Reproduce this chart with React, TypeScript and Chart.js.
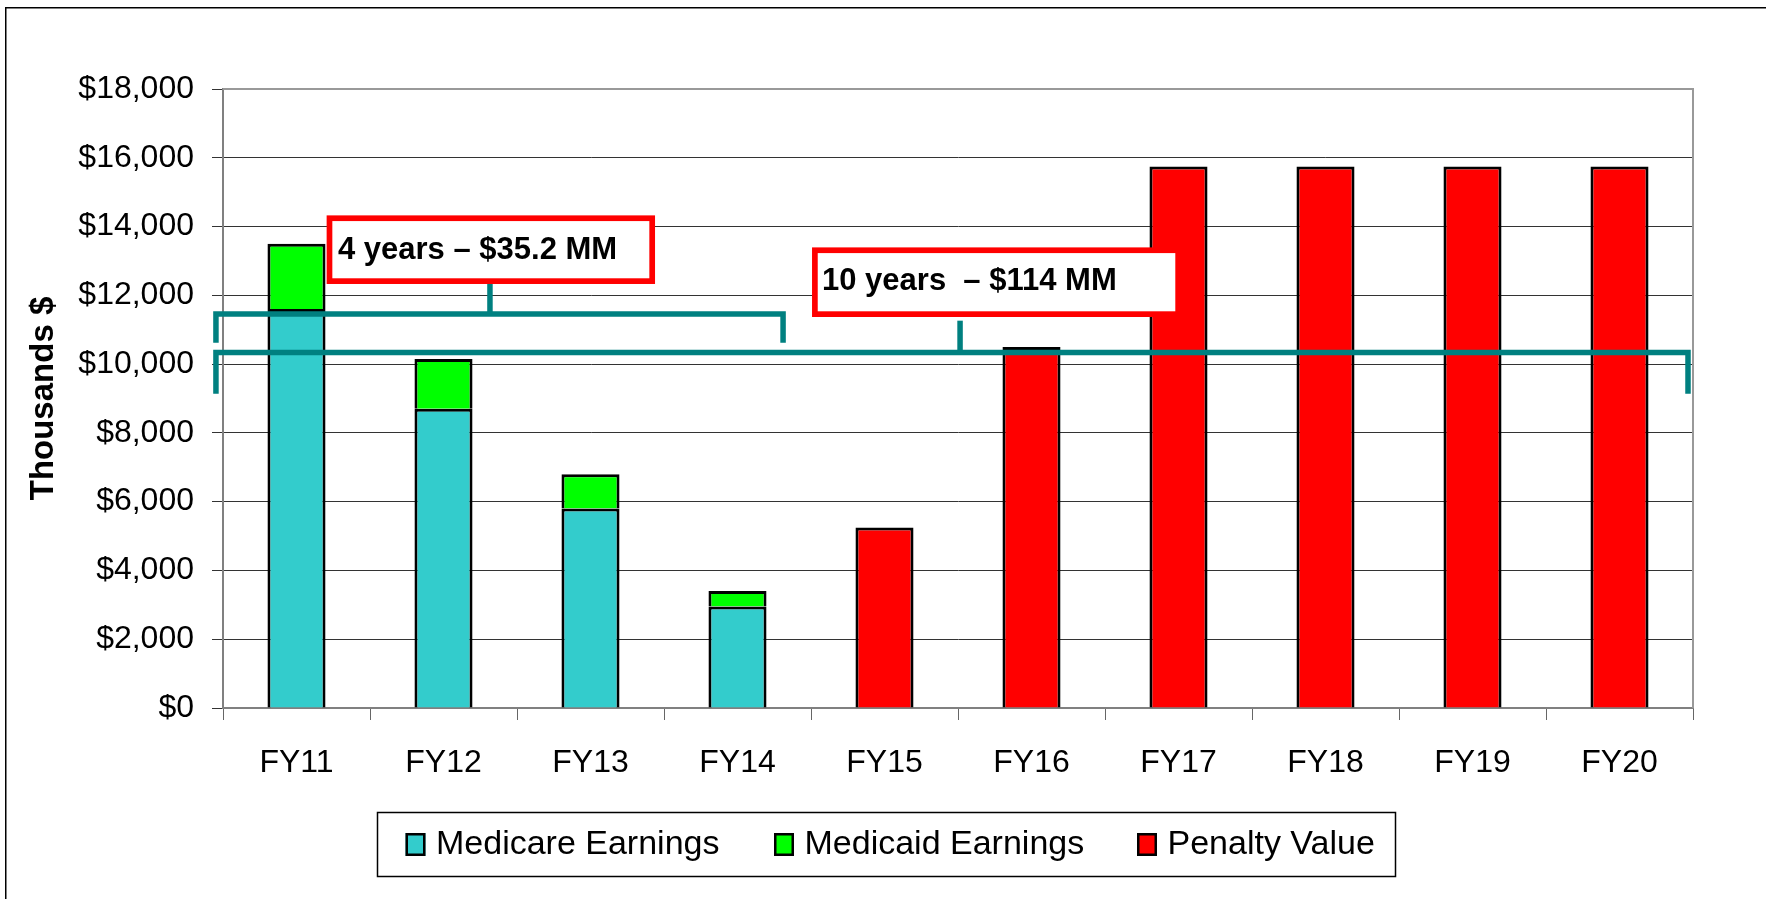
import React, { useEffect, useRef } from "react";
import { Chart, registerables } from "chart.js";

Chart.register(...registerables);

// ---------- data ----------
const categories = ["FY11", "FY12", "FY13", "FY14", "FY15", "FY16", "FY17", "FY18", "FY19", "FY20"];
const medicareEarnings = [11600, 8700, 5800, 2950, null, null, null, null, null, null];
const medicaidEarnings = [1900, 1450, 1000, 450, null, null, null, null, null, null];
const penaltyValue = [null, null, null, null, 5250, 10500, 15750, 15750, 15750, 15750];
const seriesLabels = ["Medicare Earnings", "Medicaid Earnings", "Penalty Value"];
const yTickValues = [0, 2000, 4000, 6000, 8000, 10000, 12000, 14000, 16000, 18000];
const yAxisTitle = "Thousands $";
const annotationTexts = ["4 years \u2013 $35.2 MM", "10 years  \u2013 $114 MM"];

// ---------- annotation geometry (category-index / value units) ----------
const brackets = [
  { from: -0.548, to: 3.31, level: 11457, drop: 10623, mid: 1.316, rise: 12397 },
  { from: -0.548, to: 9.466, level: 10341, drop: 9140, mid: 4.514, rise: 11263 },
];
const labelBoxes = [
  { x0: 0.205, x1: 2.439, top: 14325, bottom: 12330, tx: 0.282, ty: 13057 },
  { x0: 3.507, x1: 6.017, top: 13394, bottom: 11370, tx: 3.575, ty: 12144 },
];

const FONT = '"Liberation Sans", Arial, Helvetica, sans-serif';
const COLORS = ["#33CCCC", "#00FF00", "#FF0000"];
const TEAL = "#008080";

const LEGEND_MARKER_X = [405.5, 774, 1137];

const annotationPlugin = {
  id: "annotationPlugin",
  beforeDraw(chart: any) {
    const { ctx } = chart;
    ctx.save();
    ctx.fillStyle = "#ffffff";
    ctx.fillRect(0, 0, chart.width, chart.height);
    ctx.restore();
  },
  afterDatasetsDraw(chart: any) {
    const { ctx, chartArea } = chart;
    const x = chart.scales.x;
    const y = chart.scales.y;
    ctx.save();
    // top & right plot frame
    ctx.strokeStyle = "#999999";
    ctx.lineWidth = 2;
    ctx.beginPath();
    ctx.moveTo(chartArea.left, chartArea.top);
    ctx.lineTo(chartArea.right, chartArea.top);
    ctx.lineTo(chartArea.right, chartArea.bottom);
    ctx.stroke();

    // brackets
    ctx.strokeStyle = TEAL;
    ctx.lineWidth = 5.5;
    ctx.lineCap = "butt";
    ctx.lineJoin = "miter";
    for (const b of brackets) {
      const xa = x.getPixelForValue(b.from);
      const xb = x.getPixelForValue(b.to);
      const yl = y.getPixelForValue(b.level);
      const yd = y.getPixelForValue(b.drop);
      const xm = x.getPixelForValue(b.mid);
      const yr = y.getPixelForValue(b.rise);
      ctx.beginPath();
      ctx.moveTo(xa, yd);
      ctx.lineTo(xa, yl);
      ctx.lineTo(xb, yl);
      ctx.lineTo(xb, yd);
      ctx.stroke();
      ctx.beginPath();
      ctx.moveTo(xm, yr);
      ctx.lineTo(xm, yl);
      ctx.stroke();
    }

    // label boxes
    const bw = 5.7;
    labelBoxes.forEach((bx, i) => {
      const l = x.getPixelForValue(bx.x0);
      const r = x.getPixelForValue(bx.x1);
      const t = y.getPixelForValue(bx.top);
      const btm = y.getPixelForValue(bx.bottom);
      ctx.fillStyle = "#FF0000";
      ctx.fillRect(l, t, r - l, btm - t);
      ctx.fillStyle = "#FFFFFF";
      ctx.fillRect(l + bw, t + bw, r - l - 2 * bw, btm - t - 2 * bw);
      ctx.fillStyle = "#000000";
      ctx.font = `bold 31px ${FONT}`;
      ctx.textBaseline = "alphabetic";
      ctx.textAlign = "left";
      ctx.fillText(annotationTexts[i], x.getPixelForValue(bx.tx), y.getPixelForValue(bx.ty));
    });
    ctx.restore();
  },
  afterDraw(chart: any) {
    const { ctx } = chart;
    ctx.save();
    // legend frame
    ctx.strokeStyle = "#000000";
    ctx.lineWidth = 1.5;
    ctx.strokeRect(377.5, 812.5, 1018, 64);
    ctx.font = `34px ${FONT}`;
    ctx.textBaseline = "alphabetic";
    ctx.textAlign = "left";
    chart.data.datasets.forEach((ds: any, i: number) => {
      const mx = LEGEND_MARKER_X[i];
      ctx.fillStyle = ds.backgroundColor;
      ctx.fillRect(mx, 833, 20, 23);
      ctx.strokeStyle = "#000000";
      ctx.lineWidth = 2.5;
      ctx.strokeRect(mx + 1.25, 833 + 1.25, 20 - 2.5, 23 - 2.5);
      ctx.fillStyle = "#000000";
      ctx.fillText(ds.label, mx + 30.5, 854);
    });
    // outer frame
    ctx.lineWidth = 1.5;
    ctx.strokeStyle = "#000000";
    ctx.strokeRect(5.75, 7.75, chart.width + 20, chart.height + 20);
    ctx.restore();
  },
};

export default function App() {
  const canvasRef = useRef<HTMLCanvasElement | null>(null);

  useEffect(() => {
    if (!canvasRef.current) return;
    const dataSets = [medicareEarnings, medicaidEarnings, penaltyValue];
    const chart = new Chart(canvasRef.current, {
      type: "bar",
      data: {
        labels: categories,
        datasets: dataSets.map((d, i) => ({
          label: seriesLabels[i],
          data: d,
          backgroundColor: COLORS[i],
          borderColor: "#000000",
          borderWidth: 3,
          stack: "s",
          barPercentage: 0.395,
          categoryPercentage: 1.0,
        })),
      },
      options: {
        responsive: false,
        maintainAspectRatio: false,
        animation: false,
        devicePixelRatio: 1,
        layout: { padding: { top: 89, left: 0, right: 73, bottom: 0 } },
        plugins: {
          legend: { display: false },
          tooltip: { enabled: false },
          title: { display: false },
        },
        scales: {
          x: {
            stacked: true,
            afterFit: (scale: any) => {
              scale.height = 191;
            },
            grid: {
              display: true,
              drawOnChartArea: false,
              drawTicks: true,
              tickLength: 12,
              tickColor: "#666666",
              offset: true,
            },
            border: { display: true, color: "#808080", width: 2 },
            ticks: {
              color: "#000000",
              font: { family: FONT, size: 32 },
              padding: 24,
              autoSkip: false,
              maxRotation: 0,
            },
          },
          y: {
            stacked: true,
            min: 0,
            max: 18000,
            afterFit: (scale: any) => {
              scale.width = 223;
            },
            afterBuildTicks: (axis: any) => {
              axis.ticks = yTickValues.map((v) => ({ value: v }));
            },
            grid: {
              color: "#333333",
              lineWidth: 1,
              drawTicks: true,
              tickLength: 11,
            },
            border: { display: true, color: "#808080", width: 2 },
            ticks: {
              color: "#000000",
              font: { family: FONT, size: 32 },
              padding: 18,
              callback: (v: any) => "$" + Number(v).toLocaleString("en-US"),
            },
            title: {
              display: true,
              text: yAxisTitle,
              color: "#000000",
              font: { family: FONT, size: 33, weight: "bold" },
              padding: { top: 24, bottom: 0 },
            },
          },
        },
      },
      plugins: [annotationPlugin],
    });
    return () => chart.destroy();
  }, []);

  return (
    <div style={{ position: "absolute", left: 0, top: 0, width: 1766, height: 899, overflow: "hidden" }}>
      <canvas ref={canvasRef} width={1766} height={899} style={{ display: "block" }} />
    </div>
  );
}
